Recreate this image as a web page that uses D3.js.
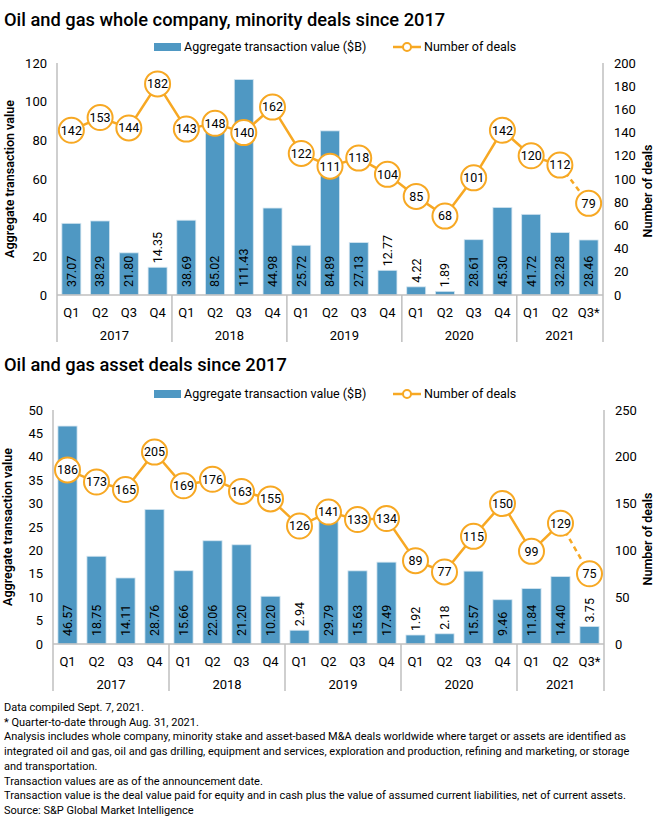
<!DOCTYPE html>
<html>
<head>
<meta charset="utf-8">
<script src="https://cdn.jsdelivr.net/npm/d3@7"></script>
<style>
  body { margin: 0; background: #fff; }
  svg { display: block; font-family: Roboto, "Noto Sans", sans-serif; }
</style>
</head>
<body>
<svg id="chart" width="660" height="817"></svg>
<script>
// ---------- DATA ----------
const quarters = ["Q1","Q2","Q3","Q4","Q1","Q2","Q3","Q4","Q1","Q2","Q3","Q4","Q1","Q2","Q3","Q4","Q1","Q2","Q3*"];
const years = ["2017","2018","2019","2020","2021"];
const quartersPerYear = [4,4,4,4,3];

const wholeTitle = "Oil and gas whole company, minority deals since 2017";
const wholeValues = [37.07,38.29,21.80,14.35,38.69,85.02,111.43,44.98,25.72,84.89,27.13,12.77,4.22,1.89,28.61,45.30,41.72,32.28,28.46];
const wholeDeals  = [142,153,144,182,143,148,140,162,122,111,118,104,85,68,101,142,120,112,79];
const wholeLeftTicks  = [0,20,40,60,80,100,120];
const wholeRightTicks = [0,20,40,60,80,100,120,140,160,180,200];

const assetTitle = "Oil and gas asset deals since 2017";
const assetValues = [46.57,18.75,14.11,28.76,15.66,22.06,21.20,10.20,2.94,29.79,15.63,17.49,1.92,2.18,15.57,9.46,11.84,14.40,3.75];
const assetDeals  = [186,173,165,205,169,176,163,155,126,141,133,134,89,77,115,150,99,129,75];
const assetLeftTicks  = [0,5,10,15,20,25,30,35,40,45,50];
const assetRightTicks = [0,50,100,150,200,250];

const legendBarLabel = "Aggregate transaction value ($B)";
const legendLineLabel = "Number of deals";
const leftAxisTitle = "Aggregate transaction value";
const rightAxisTitle = "Number of deals";

const footnotes = [
  "Data compiled Sept. 7, 2021.",
  "* Quarter-to-date through Aug. 31, 2021.",
  "Analysis includes whole company, minority stake and asset-based M&A deals worldwide where target or assets are identified as",
  "integrated oil and gas, oil and gas drilling, equipment and services, exploration and production, refining and marketing, or storage",
  "and transportation.",
  "Transaction values are as of the announcement date.",
  "Transaction value is the deal value paid for equity and in cash plus the value of assumed current liabilities, net of current assets.",
  "Source: S&P Global Market Intelligence"
];

// ---------- STYLE ----------
const BAR = "#4f98c3";
const ORANGE = "#f7a823";
const AXIS = "#bfbfbf";
const TEXT = "#000";

const svg = d3.select("#chart");

function drawChart(cfg) {
  const g = svg.append("g");
  const { left, right, top, bottom } = cfg;

  // title
  g.append("text").attr("x", 4).attr("y", cfg.titleY)
    .attr("font-size", 18.3).attr("font-weight", 500).attr("fill", TEXT)
    .text(cfg.title);

  // legend
  const ly = cfg.legendY;
  g.append("rect").attr("x", 154).attr("y", ly - 4).attr("width", 27).attr("height", 8).attr("fill", BAR);
  g.append("text").attr("x", 184).attr("y", ly).attr("dy", "0.35em")
    .attr("font-size", 12.5).attr("fill", TEXT).text(legendBarLabel);
  g.append("line").attr("x1", 393).attr("x2", 421).attr("y1", ly).attr("y2", ly)
    .attr("stroke", ORANGE).attr("stroke-width", 2.5);
  g.append("circle").attr("cx", 407).attr("cy", ly).attr("r", 4)
    .attr("fill", "#fff").attr("stroke", ORANGE).attr("stroke-width", 2);
  g.append("text").attr("x", 424).attr("y", ly).attr("dy", "0.35em")
    .attr("font-size", 12.5).attr("fill", TEXT).text(legendLineLabel);

  const x = d3.scaleBand().domain(d3.range(quarters.length))
    .range([left, right]).paddingInner(0.34).paddingOuter(0.17);
  const yL = d3.scaleLinear().domain([0, d3.max(cfg.leftTicks)]).range([bottom, top]);
  const yR = d3.scaleLinear().domain([0, d3.max(cfg.rightTicks)]).range([bottom, top]);

  // left axis
  const ax = g.append("g").attr("transform", `translate(${left - 10},0)`)
    .call(d3.axisLeft(yL).tickValues(cfg.leftTicks).tickSize(0).tickPadding(0));
  ax.select(".domain").remove();
  ax.selectAll("text").attr("font-size", 13).attr("fill", TEXT).attr("font-family", "Roboto, sans-serif");

  // right axis
  const ar = g.append("g").attr("transform", `translate(${right + 11},0)`)
    .call(d3.axisRight(yR).tickValues(cfg.rightTicks).tickSize(0).tickPadding(0));
  ar.select(".domain").remove();
  ar.selectAll("text").attr("font-size", 13).attr("fill", TEXT).attr("font-family", "Roboto, sans-serif");

  // axis titles
  g.append("text").attr("transform", `translate(${cfg.leftTitleX},${(top + bottom) / 2}) rotate(-90)`)
    .attr("text-anchor", "middle").attr("font-size", 12.5).attr("font-weight", 600).attr("fill", TEXT)
    .text(leftAxisTitle);
  g.append("text").attr("transform", `translate(${652},${(top + bottom) / 2 + 12}) rotate(-90)`)
    .attr("text-anchor", "middle").attr("font-size", 12.5).attr("font-weight", 600).attr("fill", TEXT)
    .text(rightAxisTitle);

  // bars
  g.append("g").selectAll("rect").data(cfg.values).join("rect")
    .attr("x", (d, i) => x(i)).attr("width", x.bandwidth())
    .attr("y", d => yL(d)).attr("height", d => bottom - yL(d))
    .attr("fill", BAR).attr("stroke", "#d4e5f0").attr("stroke-width", 0.8);

  // bar labels
  g.append("g").selectAll("text").data(cfg.values).join("text")
    .attr("transform", (d, i) => {
      const cx = x(i) + x.bandwidth() / 2;
      const h = bottom - yL(d);
      const yy = h > 38 ? bottom - 8 : yL(d) - 4;
      return `translate(${cx},${yy}) rotate(-90)`;
    })
    .attr("dy", "0.35em").attr("text-anchor", "start")
    .attr("font-size", 12.5).attr("fill", TEXT)
    .text(d => d.toFixed(2));

  // axis lines
  g.append("line").attr("x1", left).attr("x2", right).attr("y1", bottom).attr("y2", bottom)
    .attr("stroke", AXIS).attr("stroke-width", 1.5);
  g.append("line").attr("x1", left).attr("x2", left).attr("y1", top).attr("y2", bottom + 47)
    .attr("stroke", AXIS).attr("stroke-width", 1.5);
  g.append("line").attr("x1", right).attr("x2", right).attr("y1", top).attr("y2", bottom + 47)
    .attr("stroke", AXIS).attr("stroke-width", 1.5);

  // quarter labels
  g.append("g").selectAll("text").data(quarters).join("text")
    .attr("x", (d, i) => x(i) + x.bandwidth() / 2).attr("y", bottom + 17)
    .attr("dy", "0.35em").attr("text-anchor", "middle").attr("font-size", 13).attr("fill", TEXT)
    .text(d => d);

  // year groups
  let start = 0;
  const step = x.step();
  years.forEach((yr, k) => {
    const n = quartersPerYear[k];
    const x0 = left + step * start;
    const x1 = left + step * (start + n);
    g.append("text").attr("x", (x0 + x1) / 2).attr("y", bottom + 40).attr("dy", "0.35em")
      .attr("text-anchor", "middle").attr("font-size", 13).attr("fill", TEXT).text(yr);
    if (k > 0) {
      g.append("line").attr("x1", x0).attr("x2", x0).attr("y1", bottom).attr("y2", bottom + 47)
        .attr("stroke", AXIS).attr("stroke-width", 1.5);
    }
    start += n;
  });

  // line
  const pts = cfg.deals.map((d, i) => [x(i) + x.bandwidth() / 2, yR(d)]);
  const line = d3.line();
  const nSolid = pts.length - 1;
  g.append("path").attr("d", line(pts.slice(0, nSolid)))
    .attr("fill", "none").attr("stroke", ORANGE).attr("stroke-width", 2.5);
  g.append("path").attr("d", line(pts.slice(nSolid - 1)))
    .attr("fill", "none").attr("stroke", ORANGE).attr("stroke-width", 2.5)
    .attr("stroke-dasharray", "5,4");

  const mk = g.append("g").selectAll("g").data(cfg.deals).join("g")
    .attr("transform", (d, i) => `translate(${pts[i][0]},${pts[i][1]})`);
  mk.append("circle").attr("r", 12.5).attr("fill", "#fff").attr("stroke", ORANGE).attr("stroke-width", 2);
  mk.append("text").attr("text-anchor", "middle").attr("dy", "0.35em")
    .attr("font-size", 12.5).attr("fill", TEXT).text(d => d);
}

drawChart({
  title: wholeTitle, titleY: 26, legendY: 47,
  left: 57, right: 603, top: 63, bottom: 295, leftTitleX: 14,
  values: wholeValues, deals: wholeDeals,
  leftTicks: wholeLeftTicks, rightTicks: wholeRightTicks
});

drawChart({
  title: assetTitle, titleY: 371, legendY: 394,
  left: 53, right: 604, top: 410, bottom: 644, leftTitleX: 12,
  values: assetValues, deals: assetDeals,
  leftTicks: assetLeftTicks, rightTicks: assetRightTicks
});

// footnotes
svg.append("g").selectAll("text").data(footnotes).join("text")
  .attr("x", 4).attr("y", (d, i) => 711 + i * 14.7)
  .attr("font-size", 11).attr("fill", TEXT)
  .text(d => d);
</script>
</body>
</html>
